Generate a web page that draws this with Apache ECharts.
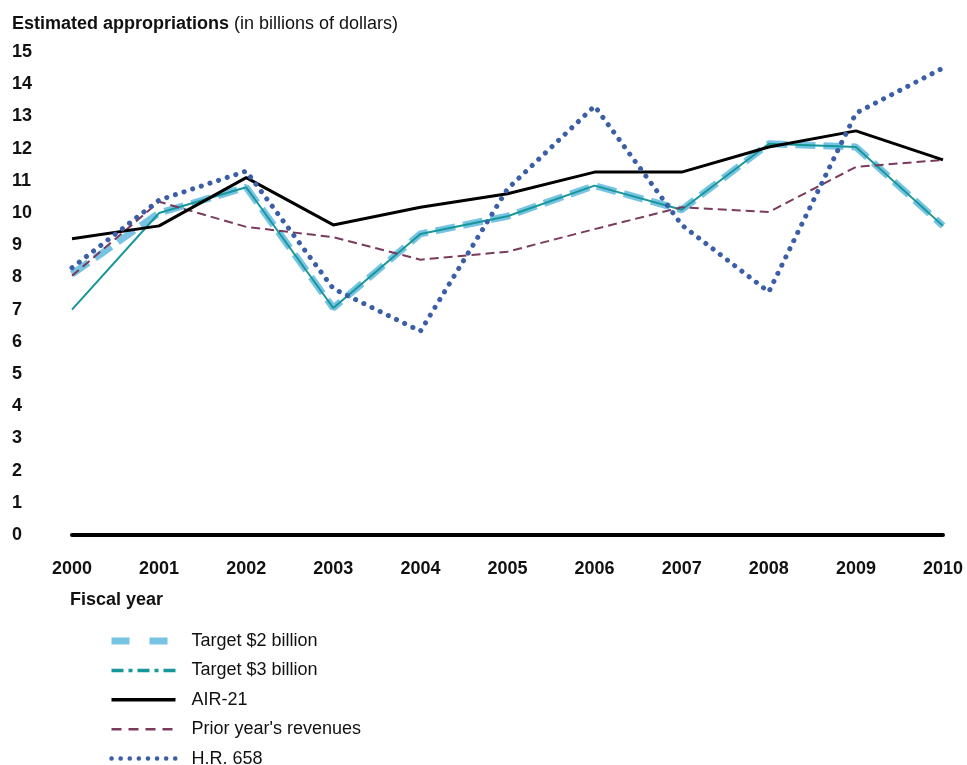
<!DOCTYPE html>
<html>
<head>
<meta charset="utf-8">
<script src="https://cdn.jsdelivr.net/npm/echarts@6/dist/echarts.min.js"></script>
<style>html,body{margin:0;padding:0;background:#fff}#c{width:967px;height:765px}</style>
</head>
<body>
<div id="c"></div>
<script>
const years = ['2000','2001','2002','2003','2004','2005','2006','2007','2008','2009','2010'];
const target2 = [8.1, 10.0, 10.8, 7.05, 9.35, 9.9, 10.85, 10.1, 12.15, 12.05, 9.6];
const target3 = [7.0, 10.0, 10.8, 7.05, 9.35, 9.9, 10.85, 10.1, 12.15, 12.05, 9.6];
const air21 = [9.2, 9.6, 11.1, 9.63, 10.18, 10.6, 11.27, 11.27, 12.05, 12.55, 11.65];
const priorRev = [8.05, 10.35, 9.57, 9.25, 8.55, 8.8, 9.5, 10.18, 10.03, 11.43, 11.65];
const hr658 = [8.3, 10.4, 11.3, 7.65, 6.33, 10.75, 13.32, 9.63, 7.55, 13.1, 14.5];
const yTicks = [0, 15, 1];

const font = '"Liberation Sans", Arial, sans-serif';
const chart = echarts.init(document.getElementById('c'), null, {renderer: 'canvas'});
const teal = '#17979a', light = '#76c3e3', maroon = '#7a3a5c', blue = '#3b5ea6';
chart.setOption({
  animation: false,
  backgroundColor: '#fff',
  title: {
    left: 12, top: 15, padding: 0,
    text: '{b|Estimated appropriations} {n|(in billions of dollars)}',
    textStyle: {rich: {
      b: {fontFamily: font, fontWeight: 'bold', fontSize: 18, color: '#111'},
      n: {fontFamily: font, fontWeight: 'normal', fontSize: 18, color: '#111'}
    }}
  },
  graphic: [{type: 'text', left: 70, top: 591, style: {text: 'Fiscal year', font: 'bold 18px ' + font, fill: '#111'}}],
  grid: {left: 72, right: 24, top: 52, bottom: 230},
  legend: {
    orient: 'vertical', left: 108, top: 632, height: 300, padding: 0, itemWidth: 64, itemHeight: 14, itemGap: 11.4,
    itemStyle: {opacity: 0},
    textStyle: {fontFamily: font, fontSize: 18, color: '#111', padding: [0, 0, 0, 11]},
    data: [
      {name: 'Target $2 billion', lineStyle: {width: 7, type: [18, 20]}},
      {name: 'Target $3 billion', lineStyle: {width: 3.5, type: [12, 5, 4, 5]}},
      {name: 'AIR-21', lineStyle: {width: 3.5}},
      {name: "Prior year's revenues", lineStyle: {width: 2.5, type: [10, 7]}},
      {name: 'H.R. 658', lineStyle: {width: 4.5, type: [0.1, 9], cap: 'round'}}
    ]
  },
  xAxis: {
    type: 'category', data: years, boundaryGap: false,
    axisLine: {lineStyle: {color: '#000', width: 4}},
    axisTick: {show: false},
    axisLabel: {fontFamily: font, fontWeight: 'bold', fontSize: 18, color: '#111', margin: 25}
  },
  yAxis: {
    type: 'value', min: yTicks[0], max: yTicks[1], interval: yTicks[2],
    axisLine: {show: false}, axisTick: {show: false}, splitLine: {show: false},
    axisLabel: {fontFamily: font, fontWeight: 'bold', fontSize: 18, color: '#111', align: 'left', margin: 60}
  },
  series: [
    {name: 'Target $2 billion', type: 'line', data: target2, symbol: 'none', z: 2,
      itemStyle: {color: light}, lineStyle: {color: light, width: 7, type: [20, 8]}},
    {name: 'Target $3 billion', type: 'line', data: target3, symbol: 'none', z: 3,
      itemStyle: {color: teal}, lineStyle: {color: teal, width: 2}},
    {name: 'AIR-21', type: 'line', data: air21, symbol: 'none', z: 4,
      itemStyle: {color: '#000'}, lineStyle: {color: '#000', width: 3}},
    {name: "Prior year's revenues", type: 'line', data: priorRev, symbol: 'none', z: 3,
      itemStyle: {color: maroon}, lineStyle: {color: maroon, width: 2, type: [9, 5]}},
    {name: 'H.R. 658', type: 'line', data: hr658, symbol: 'none', z: 5,
      itemStyle: {color: blue}, lineStyle: {color: blue, width: 5, type: [0.1, 9], cap: 'round'}}
  ]
});
</script>
</body>
</html>
